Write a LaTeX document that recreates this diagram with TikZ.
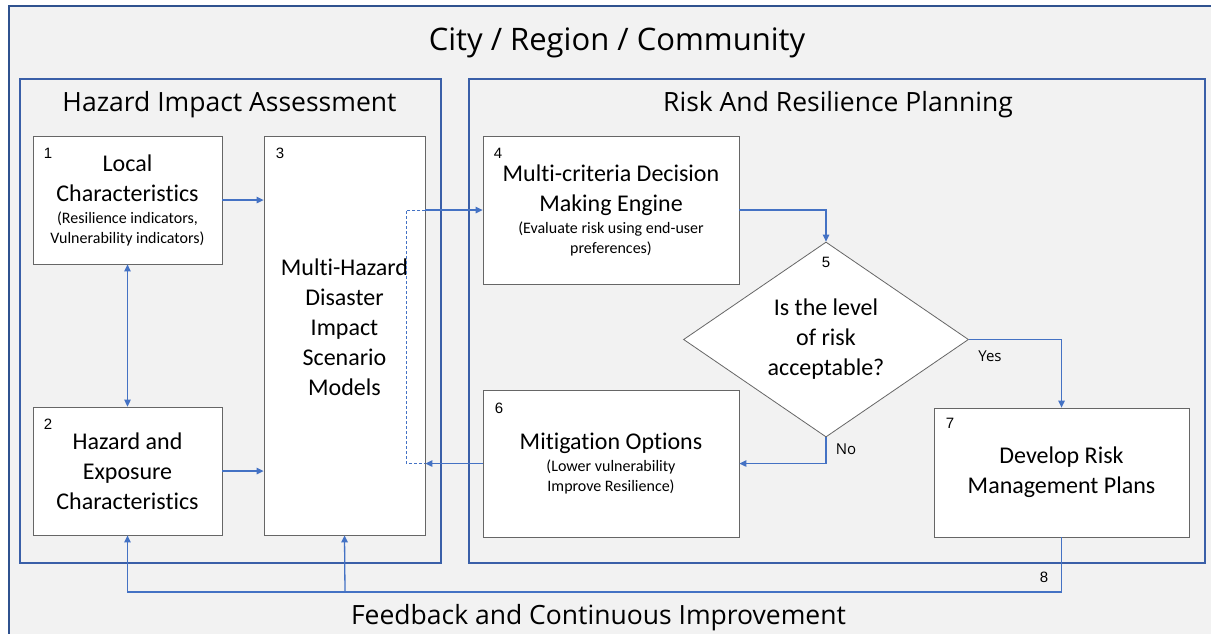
\documentclass[tikz,border=0pt]{standalone}
\usepackage{fontspec}
\setmainfont{Carlito}[Ligatures={NoCommon}]
\newfontfamily\titlefont{Open Sans}
\newfontfamily\numfont{Liberation Sans}
\usetikzlibrary{shapes.geometric,arrows.meta,calc}
\definecolor{bg}{HTML}{F2F2F2}
\definecolor{connc}{HTML}{4472C4}
\definecolor{panelc}{HTML}{3A5FA8}
\definecolor{framec}{HTML}{2F528F}
\definecolor{boxline}{HTML}{666666}
\newcommand\subtxt{\fontsize{16}{20}\selectfont}
\tikzset{
  box/.style={draw=boxline, line width=0.8pt, fill=white, inner sep=0pt, align=center,
    font=\fontsize{24}{30}\selectfont},
  txt/.style={inner sep=0pt, align=center, font=\fontsize{24}{30}\selectfont},
  panelbox/.style={draw=panelc, line width=1.5pt, inner sep=0pt},
  num/.style={font=\numfont\fontsize{15}{18}\selectfont, inner sep=0pt},
  lab/.style={font=\titlefont\fontsize{15}{18}\selectfont, inner sep=0pt},
  ttl/.style={font=\titlefont\fontsize{26.5}{30}\selectfont, inner sep=0pt, anchor=base},
  bigttl/.style={font=\titlefont\fontsize{31}{34}\selectfont, inner sep=0pt, anchor=base},
  link/.style={draw=connc, line width=1.3pt, -{Triangle[length=7pt,width=6.5pt]}},
  dlink/.style={draw=connc, line width=1.3pt, {Triangle[length=7pt,width=6.5pt]}-{Triangle[length=7pt,width=6.5pt]}},
  dashlink/.style={draw=connc, line width=1pt, dash pattern=on 3pt off 2pt}
}
\begin{document}
\begin{tikzpicture}[x=1pt,y=-1pt]
\useasboundingbox (0,0) rectangle (1211,633);
\fill[white] (0,0) rectangle (1211,633);
\clip (0,0) rectangle (1211,633);
\draw[draw=framec, fill=bg, line width=2pt] (9,6) rectangle (1230,650);

% titles
\node[bigttl] (city) at (617,50) {City / Region / Community};

% panels
\node[panelbox, minimum width=421pt, minimum height=484pt] (hia) at (230.5,321) {};
\node[panelbox, minimum width=736pt, minimum height=484pt] (rrp) at (837,321) {};
\node[ttl] (hiat) at (229.5,111) {Hazard Impact Assessment};
\node[ttl] (rrpt) at (838,111) {Risk And Resilience Planning};
\node[ttl] (fbt) at (598.5,624) {Feedback and Continuous Improvement};

% boxes
\node[box, minimum width=189pt, minimum height=128pt] (b1) at (127.5,200)
  {Local\\Characteristics\\[-8pt]{\subtxt (Resilience indicators,}\\[-10pt]{\subtxt Vulnerability indicators)}};
\node[box, minimum width=189pt, minimum height=128pt] (b2) at (127.5,471)
  {Hazard and\\Exposure\\Characteristics};
\node[box, minimum width=161pt, minimum height=399pt] (b3) at (344.5,335.5) {};
\node[txt] (b3t) at (344.5,327) {Multi-Hazard\\Disaster\\Impact\\Scenario\\Models};
\node[box, minimum width=256pt, minimum height=148pt] (b4) at (611,210)
  {Multi-criteria Decision\\Making Engine\\[-8pt]{\subtxt (Evaluate risk using end-user}\\[-10pt]{\subtxt preferences)}};
\node[box, minimum width=256pt, minimum height=147pt] (b6) at (611,463.5)
  {Mitigation Options\\[-8pt]{\subtxt (Lower vulnerability}\\[-10pt]{\subtxt Improve Resilience)}};
\node[box, minimum width=255pt, minimum height=129pt] (b7) at (1061.5,472.5)
  {Develop Risk\\Management Plans};
\node[box, diamond, aspect=1.46, minimum width=285pt, minimum height=195pt] (d5) at (826,339.5)
  {Is the level\\of risk\\acceptable?};

% numbers
\node[num] (n1) at (48,153) {1};
\node[num] (n2) at (48,424) {2};
\node[num] (n3) at (280,153) {3};
\node[num] (n4) at (498,153) {4};
\node[num] (n5) at (826,262) {5};
\node[num] (n6) at (499,408) {6};
\node[num] (n7) at (950,423) {7};
\node[num] (n8) at (1044,577) {8};

% connectors
\draw[link] (b1.east) -- (b3.west |- b1.east);
\draw[link] (b2.east) -- (b3.west |- b2.east);
\draw[dlink] (b1.south) -- (b2.north);

\coordinate (dt) at ($(b3.east |- b4.west)+(-19,0)$);
\coordinate (db) at ($(b3.east |- b6.west)+(-19,0)$);
\draw[dashlink] (b3.east |- b4.west) -- (dt) -- (db) -- (b3.east |- b6.west);
\draw[link] (b3.east |- b4.west) -- (b4.west);
\draw[link] (b6.west) -- (b3.east |- b6.west);

\draw[link] (b4.east) -| (d5.north);
\draw[link] (d5.east) -| (b7.north);
\draw[link] (d5.south) |- (b6.east);
\node[lab] (yes) at (990,356) {Yes};
\node[lab] (no) at (846,449) {No};

\coordinate (fb) at (345,592);
\draw[link] (b7.south) |- (fb) -| (b2.south);
\draw[link] (fb) -- (b3.south);
\end{tikzpicture}
\end{document}
